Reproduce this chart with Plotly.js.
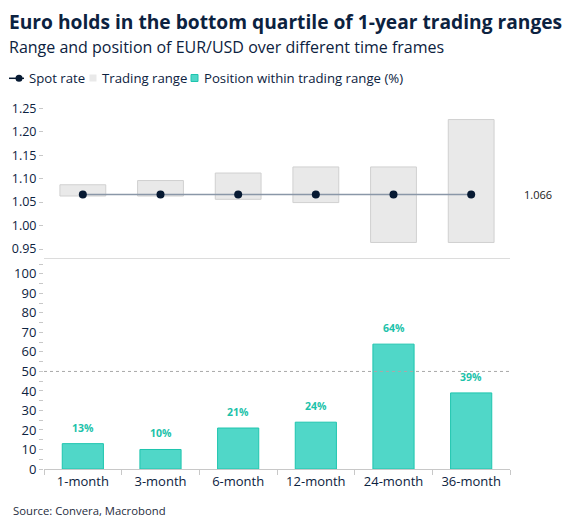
<!DOCTYPE html>
<html>
<head>
<meta charset="utf-8">
<script src="https://cdn.plot.ly/plotly-3.0.1.min.js"></script>
<style>html,body{margin:0;padding:0;background:#fff;}#chart{width:566px;height:529px;}</style>
</head>
<body>
<div id="chart"></div>
<script>
// ---- data ----
const categories = ['1-month', '3-month', '6-month', '12-month', '24-month', '36-month'];
const rangeLow = [1.063, 1.063, 1.056, 1.049, 0.964, 0.964];
const rangeHigh = [1.087, 1.096, 1.112, 1.125, 1.125, 1.226];
const spotRate = [1.066, 1.066, 1.066, 1.066, 1.066, 1.066];
const positionPct = [13, 10, 21, 24, 64, 39];
const topTicks = [0.95, 1.00, 1.05, 1.10, 1.15, 1.20, 1.25];
const bottomTicks = [0, 10, 20, 30, 40, 50, 60, 70, 80, 90, 100];

// ---- geometry helpers (layout only) ----
const W = 566, H = 529;
const M = {l: 44, r: 56, t: 99, b: 60};
const PW = W - M.l - M.r, PH = H - M.t - M.b;
const split = 0.5695;
const px = v => (v - M.l) / PW;
const py = v => (H - M.b - v) / PH;

const FONT = 'Open Sans, sans-serif';
const NAVY = '#0c2240';
const TEAL_FILL = '#50d7c8';
const TEAL_LINE = '#1ec5ae';
const TEAL_TEXT = '#1cc2aa';
const GREY_FILL = '#e9e9e9';
const GREY_LINE = '#d0d0d0';
const AXIS = '#c8c8c8';

const traces = [
  {
    type: 'bar', x: categories,
    y: rangeHigh.map((h, i) => h - rangeLow[i]), base: rangeLow,
    xaxis: 'x2', yaxis: 'y2', width: 0.59,
    marker: {color: GREY_FILL, line: {color: GREY_LINE, width: 1}},
    hoverinfo: 'skip', showlegend: false
  },
  {
    type: 'scatter', mode: 'lines+markers', x: categories, y: spotRate,
    xaxis: 'x2', yaxis: 'y2',
    line: {color: '#8a97a8', width: 1.5},
    marker: {color: '#071a33', size: 8},
    showlegend: false
  },
  {
    type: 'bar', x: categories, y: positionPct,
    xaxis: 'x', yaxis: 'y', width: 0.53,
    marker: {color: TEAL_FILL, line: {color: TEAL_LINE, width: 1}},
    showlegend: false
  }
];

const annotations = [];
positionPct.forEach((v, i) => {
  annotations.push({
    x: categories[i], y: v, xref: 'x', yref: 'y', text: v + '%',
    showarrow: false, yanchor: 'bottom', yshift: 7,
    font: {family: FONT, size: 10.5, color: TEAL_TEXT, weight: 'bold'}
  });
});
annotations.push({
  x: px(538), xref: 'paper', y: spotRate[spotRate.length - 1], yref: 'y2',
  text: spotRate[spotRate.length - 1].toFixed(3), showarrow: false,
  xanchor: 'center', font: {family: FONT, size: 11, color: '#1a1a1a'}
});
// title
annotations.push({
  x: px(7), y: py(22), xref: 'paper', yref: 'paper', xanchor: 'left', yanchor: 'middle',
  text: '<b>Euro holds in the bottom quartile of 1-year trading ranges</b>', showarrow: false,
  font: {family: FONT, size: 19.2, color: NAVY}
});
// subtitle
annotations.push({
  x: px(7), y: py(47), xref: 'paper', yref: 'paper', xanchor: 'left', yanchor: 'middle',
  text: 'Range and position of EUR/USD over different time frames', showarrow: false,
  font: {family: FONT, size: 16, color: NAVY}
});
// legend texts
[['Spot rate', 26.5], ['Trading range', 99.5], ['Position within trading range (%)', 202]].forEach(([t, x]) => {
  annotations.push({
    x: px(x), y: py(78), xref: 'paper', yref: 'paper', xanchor: 'left', yanchor: 'middle',
    text: t, showarrow: false, font: {family: FONT, size: 13.2, color: NAVY}
  });
});
// source
annotations.push({
  x: px(10.5), y: py(510.5), xref: 'paper', yref: 'paper', xanchor: 'left', yanchor: 'middle',
  text: 'Source: Convera, Macrobond', showarrow: false,
  font: {family: FONT, size: 11.3, color: '#1f2d40'}
});

const shapes = [
  {type: 'line', xref: 'paper', yref: 'y', x0: 0, x1: 1, y0: 50, y1: 50,
   line: {color: '#a8a8a8', width: 1, dash: 'dot'}},
  // legend symbols
  {type: 'line', xref: 'paper', yref: 'paper', x0: px(9), x1: px(24), y0: py(78.3), y1: py(78.3),
   line: {color: '#071a33', width: 1.5}},
  {type: 'circle', xref: 'paper', yref: 'paper', x0: px(15.5), x1: px(22.5), y0: py(74.8), y1: py(81.8),
   fillcolor: '#071a33', line: {width: 0}},
  {type: 'rect', xref: 'paper', yref: 'paper', x0: px(89.5), x1: px(96.5), y0: py(74.5), y1: py(81.5),
   fillcolor: GREY_FILL, line: {width: 0}},
  {type: 'rect', xref: 'paper', yref: 'paper', x0: px(191), x1: px(198), y0: py(74.5), y1: py(81.5),
   fillcolor: TEAL_FILL, line: {color: TEAL_LINE, width: 1}}
];

const layout = {
  width: W, height: H, margin: M,
  paper_bgcolor: '#ffffff', plot_bgcolor: '#ffffff',
  font: {family: FONT, color: NAVY},
  bargap: 0.4,
  xaxis: {
    domain: [0, 1], anchor: 'y', type: 'category',
    showline: true, linecolor: AXIS, linewidth: 1,
    ticks: 'outside', tickson: 'boundaries', ticklen: 5, tickcolor: AXIS,
    tickfont: {family: FONT, size: 13, color: NAVY},
    showgrid: false, zeroline: false, fixedrange: true
  },
  xaxis2: {
    domain: [0, 1], anchor: 'y2', matches: 'x', type: 'category',
    showline: true, linecolor: '#dcdcdc', linewidth: 1,
    ticks: '', showticklabels: false, showgrid: false, zeroline: false
  },
  yaxis: {
    domain: [0, split], anchor: 'x', range: [0, 108],
    tickvals: bottomTicks, ticks: 'outside', ticklen: 4, tickcolor: AXIS,
    minor: {dtick: 5, tick0: 0, ticks: 'outside', ticklen: 4, tickcolor: AXIS},
    tickfont: {family: FONT, size: 13, color: NAVY},
    showline: false, showgrid: false, zeroline: false
  },
  yaxis2: {
    domain: [split, 1], anchor: 'x2', range: [0.9303, 1.2698],
    tickvals: topTicks, tickformat: '.2f', ticks: 'outside', ticklen: 4, tickcolor: AXIS,
    tickfont: {family: FONT, size: 12.5, color: NAVY},
    showline: false, showgrid: false, zeroline: false
  },
  annotations: annotations,
  shapes: shapes
};

Plotly.newPlot('chart', traces, layout, {displayModeBar: false, staticPlot: true});
</script>
</body>
</html>
